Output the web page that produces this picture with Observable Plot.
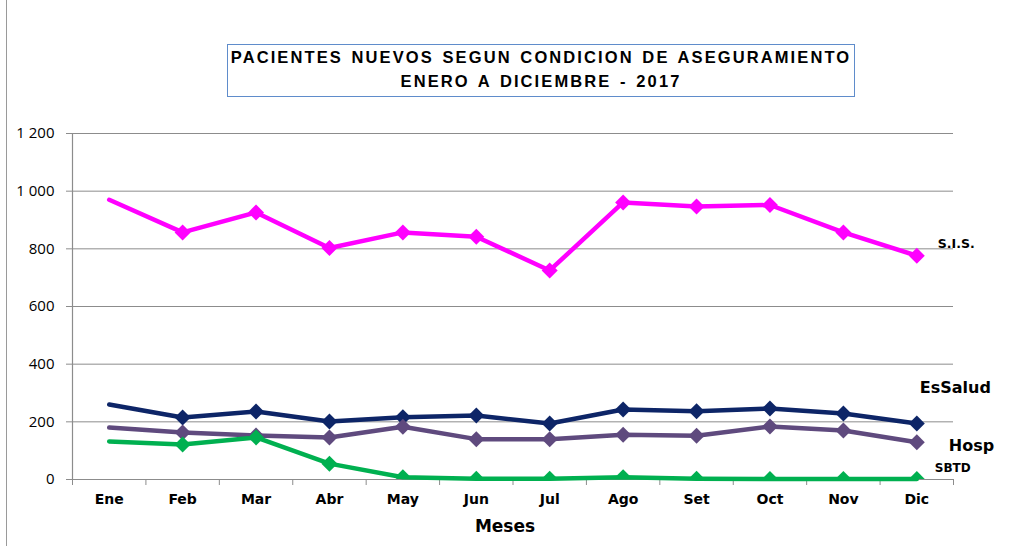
<!DOCTYPE html>
<html><head><meta charset="utf-8">
<script src="https://cdn.jsdelivr.net/npm/d3@7"></script>
<script src="https://cdn.jsdelivr.net/npm/@observablehq/plot@0.6"></script>
<style>
html,body{margin:0;padding:0;background:#fff;}
#wrap{position:relative;width:1015px;height:546px;overflow:hidden;background:#fff;}
#chart svg{display:block;}
#title{position:absolute;left:227px;top:44px;width:628px;height:53px;box-sizing:border-box;border:1px solid #5f8ccb;
  font-family:"Liberation Sans",Arial,sans-serif;font-weight:bold;font-size:16.5px;letter-spacing:2.1px;word-spacing:2px;
  text-align:center;line-height:24px;color:#000;white-space:nowrap;}
#edge{position:absolute;left:6px;top:0;width:1px;height:546px;background:#9a9a9a;}
</style></head><body>
<div id="wrap">
  <div id="chart"></div>
  <div id="title">PACIENTES NUEVOS SEGUN CONDICION DE ASEGURAMIENTO<br>ENERO A DICIEMBRE - 2017</div>
  <div id="edge"></div>
</div>
<script>
// ---- data ----
const months = ["Ene","Feb","Mar","Abr","May","Jun","Jul","Ago","Set","Oct","Nov","Dic"];
const sis     = [970, 857, 926, 803, 857, 842, 725, 961, 947, 952, 857, 776];
const essalud = [260, 215, 236, 201, 216, 222, 194, 243, 237, 246, 229, 194];
const hosp    = [180, 163, 153, 146, 183, 140, 140, 155, 152, 184, 170, 129];
const sbtd    = [132, 121, 146,  55,   8,   3,   3,   8,   3,   2,   2,   2];
const seriesNames = ["S.I.S.", "EsSalud", "Hosp", "SBTD"];
const seriesValues = [sis, essalud, hosp, sbtd];
const yTicks = [0, 200, 400, 600, 800, 1000, 1200];
const xLabel = "Meses";

// ---- styles ----
const seriesColors = ["#ff00ff", "#0d2567", "#5f4a7e", "#00b050"];
const labelStyle = [
  {y: 818, dx: 21, size: 12.5, spacing: 1},
  {y: 317, dx: 3,  size: 16,   spacing: 0},
  {y: 118, dx: 32, size: 16,   spacing: 0},
  {y: 38,  dx: 18, size: 12,   spacing: 0}
];

const rows = [];
seriesNames.forEach((s, k) => seriesValues[k].forEach((v, i) => rows.push({series: s, i, month: months[i], value: v})));

const xDomain = [-0.5, months.length - 0.5];
const bounds = d3.range(months.length + 1).map(i => i - 0.5);
const fmt = d => d3.format(",")(d).replace(",", " ");
const gray = "#8c8c8c";

const marks = [
  Plot.gridY(yTicks, {stroke: gray, strokeOpacity: 1, strokeWidth: 1}),
  Plot.ruleX([xDomain[0]], {stroke: gray, strokeWidth: 1.2}),
  Plot.ruleX(bounds, {x: d => d, y1: 0, y2: 0, insetBottom: -6, stroke: gray}),
  Plot.axisY(yTicks, {tickSize: 6, tickPadding: 12, stroke: gray, fill: "#000", tickFormat: fmt,
    fontSize: 15, fontFamily: "'Open Sans', sans-serif", label: null}),
  Plot.axisX(d3.range(months.length), {tickSize: 0, tickPadding: 15, tickFormat: i => months[i],
    fontSize: 14, fontWeight: "bold", fill: "#000", fontFamily: "'DejaVu Sans', sans-serif", label: null}),
  Plot.text([xLabel], {frameAnchor: "bottom", dy: 47, dx: -8, lineAnchor: "middle", fontSize: 17,
    fontWeight: "bold", fill: "#000", fontFamily: "'DejaVu Sans', sans-serif"}),
  Plot.line(rows, {x: "i", y: "value", z: "series", stroke: "series", strokeWidth: 4.5,
    strokeLinecap: "round", strokeLinejoin: "round"}),
  Plot.dot(rows.filter(d => d.i > 0), {x: "i", y: "value", fill: "series", symbol: "diamond2", r: 7.2, clip: true})
];
seriesNames.forEach((s, k) => {
  const st = labelStyle[k];
  marks.push(Plot.text([s], {x: months.length - 1, y: st.y, dx: st.dx, text: d => d, textAnchor: "start",
    lineAnchor: "middle", fontSize: st.size, fontWeight: "bold", fill: "#000", letterSpacing: st.spacing,
    fontFamily: "'DejaVu Sans', sans-serif"}));
});

const chart = Plot.plot({
  width: 1015, height: 546,
  marginTop: 133, marginBottom: 67, marginLeft: 72, marginRight: 62,
  style: {background: "transparent", fontFamily: "'Liberation Sans', Arial, sans-serif", overflow: "visible"},
  x: {type: "linear", domain: xDomain, axis: null},
  y: {domain: [0, 1200], axis: null},
  color: {domain: seriesNames, range: seriesColors},
  marks
});
document.getElementById("chart").appendChild(chart);
</script>
</body></html>
